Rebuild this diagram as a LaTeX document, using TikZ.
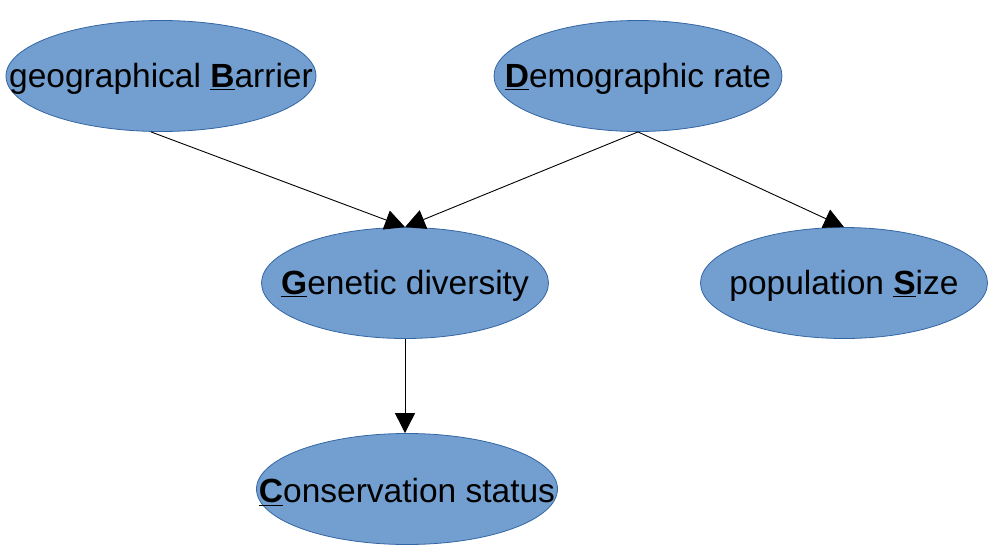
\documentclass[tikz,border=0pt]{standalone}
\usepackage{fontspec}
\setmainfont{Liberation Sans}
\usetikzlibrary{shapes.geometric,arrows.meta}
\definecolor{nodefill}{HTML}{729FCF}
\definecolor{nodeline}{HTML}{3465A4}
\tikzset{
  var/.style={ellipse, draw=nodeline, fill=nodefill, line width=0.8pt, inner sep=0pt,
    minimum height=111pt},
  vartext/.style={font=\fontsize{33.5}{38}\selectfont, text=black, inner sep=0pt, yshift=-3pt},
  link/.style={draw=black, line width=0.9pt, -{Triangle[length=20pt,width=20pt]}}
}
\newcommand{\ul}[1]{\underline{\textbf{#1}}}
\begin{document}
\begin{tikzpicture}[x=1pt,y=-1pt]
\useasboundingbox (0,0) rectangle (991,557);
\node[var, minimum width=310pt, label={[vartext]center:geographical \ul{B}arrier}] (B) at (161,76) {};
\node[var, minimum width=288pt, label={[vartext]center:\ul{D}emographic rate}] (D) at (638,76) {};
\node[var, minimum width=287pt, label={[vartext]center:\ul{G}enetic diversity}] (G) at (405,283) {};
\node[var, minimum width=287pt, label={[vartext]center:population \ul{S}ize}] (S) at (844,283) {};
\node[var, minimum width=301pt, label={[vartext]center:\ul{C}onservation status}] (C) at (407,489) {};
\draw[link] ([xshift=-10pt]B.south) -- (G.north);
\draw[link] (D.south) -- (G.north);
\draw[link] (D.south) -- (S.north);
\draw[link] (G.south) -- (G.south |- C.north);
\end{tikzpicture}
\end{document}
